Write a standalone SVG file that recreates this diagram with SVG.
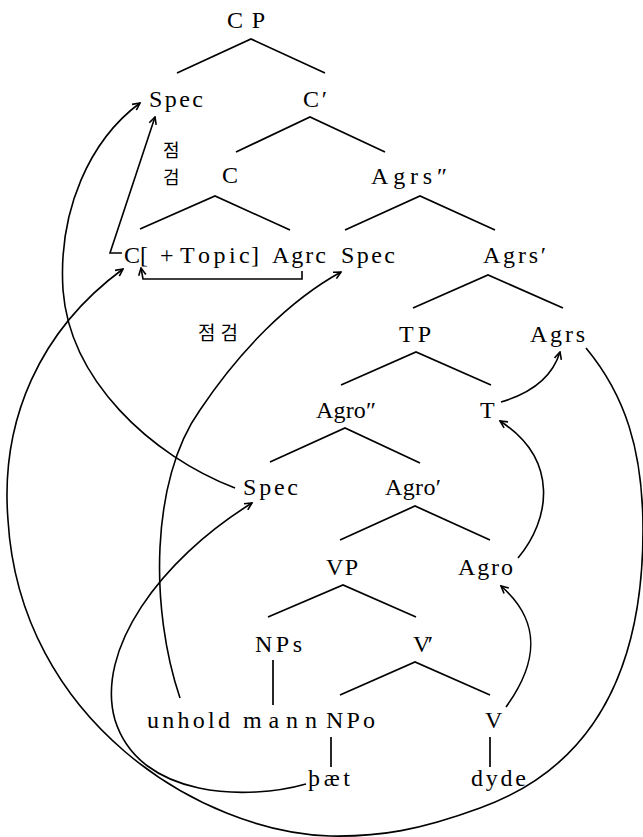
<svg xmlns="http://www.w3.org/2000/svg" width="643" height="837" viewBox="0 0 643 837">
  <style>
    text { fill: #000; }
    .br { stroke: #000; stroke-width: 1.7; fill: none; stroke-linejoin: miter; }
    .mv { stroke: #000; stroke-width: 1.6; fill: none; marker-end: url(#ah); }
  </style>
  <defs>
    <marker id="ah" viewBox="0 0 10 10" refX="9" refY="5" markerWidth="9" markerHeight="9" markerUnits="userSpaceOnUse" orient="auto">
      <path d="M1,1 L9,5 L1,9" fill="none" stroke="#000" stroke-width="1.8"/>
    </marker>
  </defs>
  <rect width="643" height="837" fill="#fff"/>

  <!-- tree labels -->
  <g font-family="'Liberation Serif', 'DejaVu Serif', serif" font-size="24">
  <g id="CP"><text x="227" y="28" textLength="38" lengthAdjust="spacing">CP</text></g>
  <g id="SpecC"><text x="149" y="107" textLength="54" lengthAdjust="spacing">Spec</text></g>
  <g id="Cbar"><text x="303" y="107" textLength="24" lengthAdjust="spacing">C′</text></g>
  <g id="C"><text x="222" y="183">C</text></g>
  <g id="AgrsP"><text x="371" y="184" textLength="76" lengthAdjust="spacing">Agrs″</text></g>
  <g id="Ctopic"><text x="124 140 160 180 198 213.5 229 239 251" y="263">C[+Topic]</text></g>
  <g id="Agrc"><text x="272" y="263" textLength="54" lengthAdjust="spacing">Agrc</text></g>
  <g id="SpecAgrs"><text x="341" y="263" textLength="54" lengthAdjust="spacing">Spec</text></g>
  <g id="AgrsBar"><text x="483" y="263" textLength="63" lengthAdjust="spacing">Agrs′</text></g>
  <g id="TP"><text x="399" y="342" textLength="32" lengthAdjust="spacing">TP</text></g>
  <g id="Agrs"><text x="530" y="342" textLength="55" lengthAdjust="spacing">Agrs</text></g>
  <g id="AgroP"><text x="316" y="418" textLength="60" lengthAdjust="spacing">Agro″</text></g>
  <g id="T"><text x="480" y="418">T</text></g>
  <g id="SpecAgro"><text x="243" y="495" textLength="55" lengthAdjust="spacing">Spec</text></g>
  <g id="AgroBar"><text x="385" y="495" textLength="56" lengthAdjust="spacing">Agro′</text></g>
  <g id="VP"><text x="326" y="575" textLength="32" lengthAdjust="spacing">VP</text></g>
  <g id="Agro"><text x="458" y="575" textLength="55" lengthAdjust="spacing">Agro</text></g>
  <g id="NPs"><text x="255" y="652" textLength="47" lengthAdjust="spacing">NPs</text></g>
  <g id="Vbar"><text x="413" y="652" textLength="20" lengthAdjust="spacing">V′</text></g>
  <g id="unhold"><text x="147" y="728" textLength="83" lengthAdjust="spacing">unhold</text></g>
  <g id="mann"><text x="243" y="728" textLength="74" lengthAdjust="spacing">mann</text></g>
  <g id="NPo"><text x="326" y="728" textLength="49" lengthAdjust="spacing">NPo</text></g>
  <g id="V"><text x="485" y="728">V</text></g>
  <g id="thaet"><text x="308" y="786" textLength="42" lengthAdjust="spacing">þæt</text></g>
  <g id="dyde"><text x="471" y="786" textLength="55" lengthAdjust="spacing">dyde</text></g>
  </g>
  <!-- Korean annotations -->
  <g font-family="'Noto Sans CJK KR', sans-serif" font-size="18">
  <g id="check1"><text x="163" y="157">점</text><text x="163" y="184">검</text></g>
  <g id="check2"><text x="198" y="340" font-size="19" textLength="40" lengthAdjust="spacing">점검</text></g>
  </g>

  <g id="connectors">
    <!-- branches of the tree -->
    <g id="branches">
      <polyline class="br" points="177,73 251,39 325,73"/>
      <polyline class="br" points="236,152 310,117 385,152"/>
      <polyline class="br" points="140,229 215,196 290,230"/>
      <polyline class="br" points="345,230 420,196 495,230"/>
      <polyline class="br" points="413,308 488,275 563,308"/>
      <polyline class="br" points="341,385 416,352 491,385"/>
      <polyline class="br" points="270,462 345,428 420,463"/>
      <polyline class="br" points="340,540 415,506 490,540"/>
      <polyline class="br" points="268,617 343,585 416,617"/>
      <polyline class="br" points="340,695 415,662 490,695"/>
      <line class="br" x1="273" y1="660" x2="273" y2="705"/>
      <line class="br" x1="331" y1="737" x2="331" y2="767"/>
      <line class="br" x1="490" y1="737" x2="490" y2="767"/>
    </g>
    <!-- movement arrows -->
    <g id="movements">
      <path class="mv" d="M122,253 L110,253 L155,117"/>
      <path class="mv" d="M302,271 L302,279 L143,279 L141,268"/>
      <path class="mv" d="M586,348 C625,395 643,450 643,530 C643,660 600,765 480,808 C420,830 380,837 330,836 C200,832 20,720 8,520 C0,420 40,330 123,269"/>
      <path class="mv" d="M235,488 C150,455 70,380 63,290 C58,210 90,140 140,103"/>
      <path class="mv" d="M180,698 C150,610 150,480 200,410 C240,350 290,300 341,272"/>
      <path class="mv" d="M306,784 C250,800 140,800 115,720 C95,650 160,560 252,503"/>
      <path class="mv" d="M506,707 C540,660 540,620 501,586"/>
      <path class="mv" d="M518,558 C550,520 560,460 500,421"/>
      <path class="mv" d="M501,402 C535,392 553,375 560,352"/>
    </g>
  </g>
</svg>
